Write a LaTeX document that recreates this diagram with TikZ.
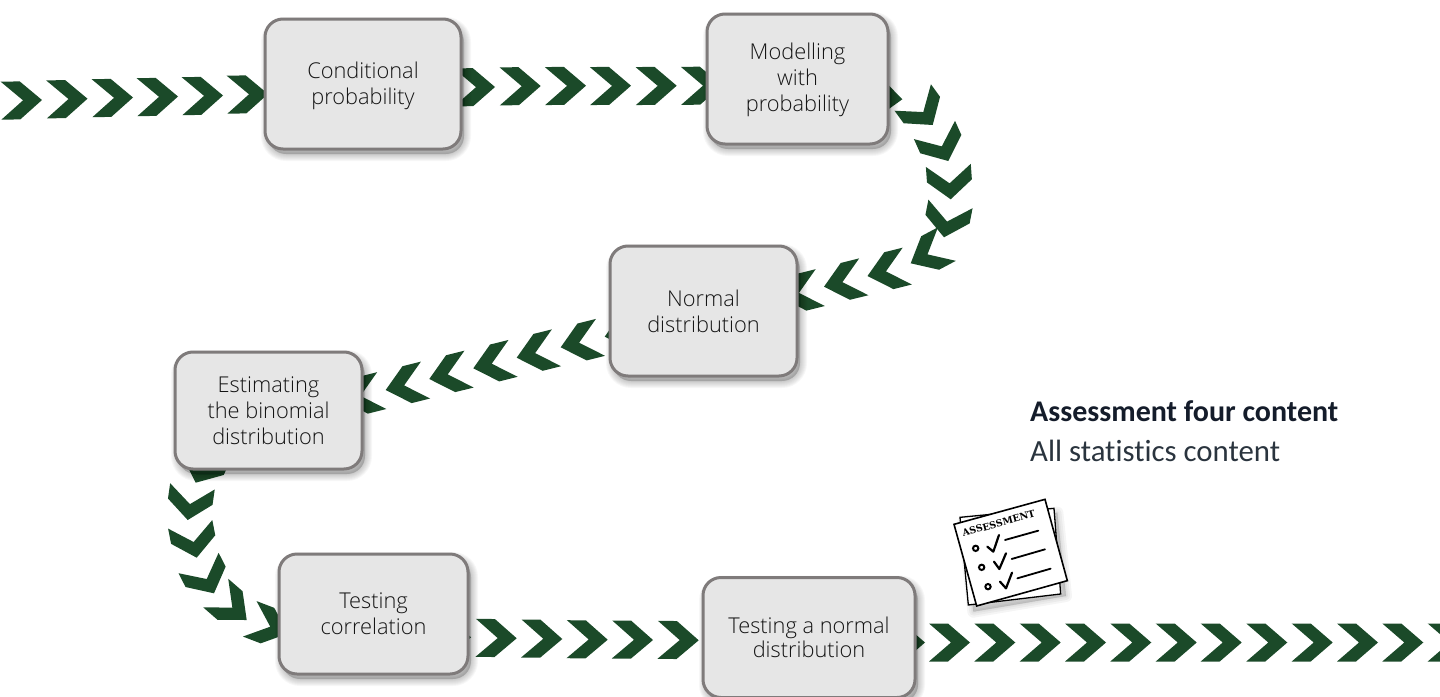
\documentclass[tikz,border=0pt]{standalone}
\usepackage{fontspec}
\setmainfont{Open Sans Light}
\newfontfamily\calfont[Ligatures=NoCommon]{Carlito}
\newfontfamily\slabfont{DejaVu Serif}
\definecolor{chevgreen}{HTML}{1B4A29}
\definecolor{boxfill}{HTML}{E6E6E6}
\definecolor{boxedge}{HTML}{7F7B7B}
\definecolor{boxtext}{HTML}{141414}
\definecolor{headtext}{HTML}{141C2A}
\definecolor{subtext}{HTML}{2A343E}
\tikzset{
  x=1pt,y=-1pt,
  chevfill/.style={fill=chevgreen,draw=none},
  softlayer/.style={preaction={draw=black,fill=black,line width=#1,draw opacity=.03,fill opacity=.03,
      transform canvas={xshift=3pt,yshift=-5pt}}},
  stepbox/.style={draw=boxedge,fill=boxfill,line width=3pt,rounded corners=18pt,inner sep=0pt,
      align=center,text=boxtext,font=\fontsize{21.8}{25.7}\selectfont,
      softlayer=14pt,softlayer=12pt,softlayer=10pt,softlayer=8pt,softlayer=6pt,softlayer=4pt,softlayer=2pt},
  sheet/.style={draw=black,fill=white,line join=miter},
  inkline/.style={draw=black,line cap=round,line join=round},
  headnote/.style={anchor=west,inner sep=0pt,font=\calfont\fontsize{30}{34}\selectfont},
}
% flat chevron: tip x, tip y, direction (clockwise from east)
\newcommand{\chevn}[3]{\fill[chevfill,shift={(#1,#2)},rotate=-#3]
  (-41,-19)--(-22,-19)--(0,0)--(-22,19)--(-41,19)--(-19,0)--cycle;}
% wide chevron used round the bends
\newcommand{\chevw}[3]{\fill[chevfill,shift={(#1,#2)},rotate=-#3]
  (-34,-22.5)--(-18.5,-22.5)--(0,0)--(-18.5,22.5)--(-34,22.5)--(-16,0)--cycle;}
\begin{document}
\begin{tikzpicture}
\useasboundingbox (0,0) rectangle (1440,696);
\clip (0,0) rectangle (1440,696);
% row 1
\chevn{42}{100}{-1}\chevn{87.5}{98.7}{-1}\chevn{133}{97.5}{-1}\chevn{178}{96.5}{-1}\chevn{223}{95.5}{-1}\chevn{268}{94}{-1}
% row 2
\chevn{495}{87}{-.5}\chevn{540.7}{86}{-.5}\chevn{586}{85.7}{-.5}\chevn{631}{85.7}{-.5}\chevn{676.7}{85.7}{-.5}\chevn{722}{85.5}{-.5}
% right bend
\chevn{902.3}{99.3}{5}
\chevw{932.7}{125}{54}\chevw{948.3}{161}{66}\chevw{950.7}{199.3}{86}\chevw{944}{237.3}{101}
\chevn{910.7}{263.3}{152}
\chevn{867.5}{276}{166}\chevn{824}{286.7}{166}\chevn{780.5}{297.5}{166}
% row 3
\chevn{604.7}{336.7}{166}\chevn{560.7}{347.3}{166}\chevn{516.7}{357.7}{166}\chevn{473.3}{368.3}{166}\chevn{429.3}{379}{166}\chevn{385.7}{390}{166}\chevn{342}{400.5}{166}
% left bend
\chevw{195.7}{482.7}{114}\chevw{187.7}{520}{98}\chevw{196.7}{557.7}{79}\chevw{214}{593.3}{63}
\chevn{246.7}{620}{41}\chevn{288}{633.5}{21}
% bottom rows
\chevn{471}{637.3}{.7}\chevn{516.7}{638.3}{.7}\chevn{562.3}{639}{.7}\chevn{607.7}{639.7}{.7}\chevn{653}{640}{.7}\chevn{698.7}{640.3}{.7}
\foreach \tx in {925,970,1015.3,1060.7,1106,1151.3,1196.7,1241.7,1287.3,1332.7,1378,1423.3,1468.7}{\chevn{\tx}{642.5}{0}}
% boxes
\node[stepbox,minimum width=196pt,minimum height=130pt] (cond) at (363,84) {\rule{0pt}{20pt}Conditional\\probability};
\node[stepbox,minimum width=181pt,minimum height=130pt] (model) at (797.5,79) {\rule{0pt}{18pt}Modelling\\with\\probability};
\node[stepbox,minimum width=187pt,minimum height=130pt] (normal) at (703.5,311) {Normal\\distribution};
\node[stepbox,minimum width=187pt,minimum height=117pt] (binom) at (268.5,410.5) {Estimating\\the binomial\\distribution};
\node[stepbox,minimum width=189pt,minimum height=120pt] (corr) at (373.5,614) {Testing\\correlation};
\node[stepbox,minimum width=212pt,minimum height=120pt] (tnorm) at (809,637.5) {Testing a normal\\[-2pt]distribution};
% heading
\node[headnote,text=headtext] (head) at (1030,411) {\bfseries Assessment four content};
\node[headnote,text=subtext,font=\calfont\fontsize{30.8}{34}\selectfont] (sub) at (1030,451) {All statistics content};
% assessment icon (zoom coordinates, 3 units per pixel)
\begin{scope}[shift={(930,490)},x=.3333pt,y=-.3333pt]
  \foreach \gw in {12pt,8pt,4pt,1pt}{
    \path[draw=black,fill=black,line width=\gw,draw opacity=.04,fill opacity=.04,line join=round] (100,95)--(382,68)--(408,318)--(130,365)--cycle;}
  \path[sheet,line width=1.3pt] (90,82)--(372,55)--(392,312)--(115,345)--cycle;
  \path[sheet,line width=1.6pt] (72,103)--(345,28)--(412,272)--(140,348)--cycle;
  \node[rotate=15.4,inner sep=0pt,text=black,font=\slabfont\bfseries\fontsize{9.5}{10}\selectfont] (icontitle) at (206,100) {ASSESSMENT};
  \foreach \ox/\oy in {137/175,155/232,174/290}{\draw[black,line width=2pt,fill=white] (\ox,\oy) circle (8);}
  \draw[inkline,line width=2.2pt] (172,170)--(190,185)--(207,135);
  \draw[inkline,line width=2.2pt] (192,215)--(208,237)--(228,190);
  \draw[inkline,line width=2.2pt] (210,275)--(228,295)--(246,248);
  \draw[inkline,line width=1.8pt] (225,150)--(325,122);
  \draw[inkline,line width=1.8pt] (245,207)--(345,178);
  \draw[inkline,line width=1.8pt] (262,265)--(362,236);
\end{scope}
\end{tikzpicture}
\end{document}
